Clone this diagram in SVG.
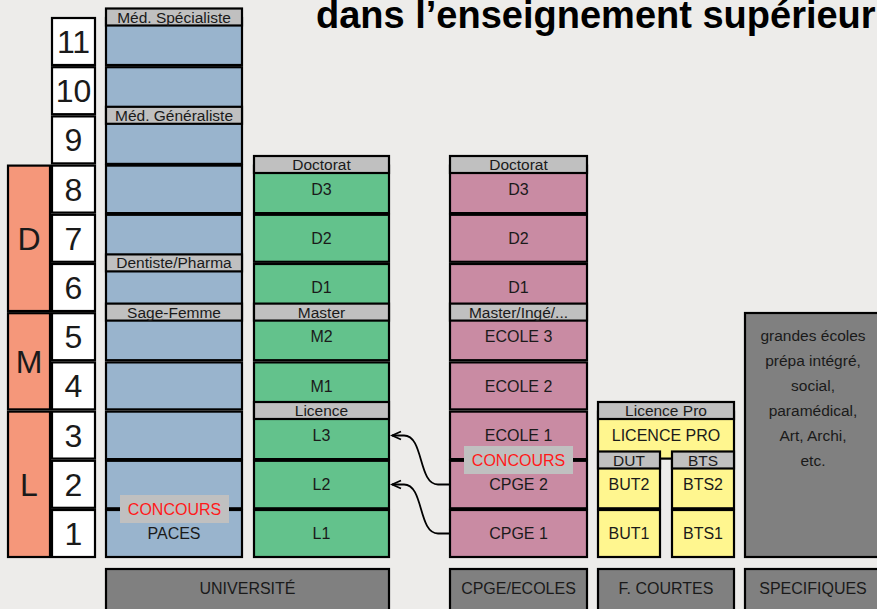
<svg xmlns="http://www.w3.org/2000/svg" width="877" height="609" viewBox="0 0 877 609">
<style>
text{font-family:"Liberation Sans",Arial,Helvetica,sans-serif;fill:#1a1a1a;text-anchor:middle}
rect{stroke:#000;stroke-width:2.2}
rect.bg{fill:#EDECEA;stroke:none}
.b{fill:#99B4CD}.g{fill:#63C28C}.p{fill:#C98BA3}.y{fill:#FFF68F}.s{fill:#F5977A}.w{fill:#fff}
.lab{fill:#C0C0C0}.dk{fill:#808080}
.t16{font-size:16px}.t15{font-size:15.5px}.big{font-size:32px}
.red{fill:#FF1A1A;font-size:16px}
rect.cc{fill:#C0C0C0;stroke:none}
.title{font-size:38px;font-weight:bold;text-anchor:start;fill:#000}
.arr{fill:none;stroke:#000;stroke-width:1.8}
</style>
<defs>
<marker id="ah" viewBox="0 0 12 12" refX="10" refY="6" markerWidth="12" markerHeight="12" markerUnits="userSpaceOnUse" orient="auto">
<path d="M1,2 L10,6 L1,10" fill="none" stroke="#000" stroke-width="1.8"/>
</marker>
</defs>
<rect class="bg" x="0" y="0" width="877" height="609"/>
<text class="title" x="316" y="27.5">dans l’enseignement supérieur</text>

<g id="lmd">
<g id="lmd-D"><rect class="s" x="8" y="165.6" width="42" height="145.4"/><text class="big" x="29" y="249.5">D</text></g>
<g id="lmd-M"><rect class="s" x="8" y="313.2" width="42" height="96.2"/><text class="big" x="29" y="372.8">M</text></g>
<g id="lmd-L"><rect class="s" x="8" y="411.6" width="42" height="145.4"/><text class="big" x="29" y="495.8">L</text></g>
</g>

<g id="years">
<g id="y1"><rect class="w" x="52" y="510" width="43" height="47"/><text class="big" x="73.5" y="545">1</text></g>
<g id="y2"><rect class="w" x="52" y="460.8" width="43" height="47"/><text class="big" x="73.5" y="495.8">2</text></g>
<g id="y3"><rect class="w" x="52" y="411.6" width="43" height="47"/><text class="big" x="73.5" y="446.6">3</text></g>
<g id="y4"><rect class="w" x="52" y="362.4" width="43" height="47"/><text class="big" x="73.5" y="397.4">4</text></g>
<g id="y5"><rect class="w" x="52" y="313.2" width="43" height="47"/><text class="big" x="73.5" y="348.2">5</text></g>
<g id="y6"><rect class="w" x="52" y="264" width="43" height="47"/><text class="big" x="73.5" y="299">6</text></g>
<g id="y7"><rect class="w" x="52" y="214.8" width="43" height="47"/><text class="big" x="73.5" y="249.8">7</text></g>
<g id="y8"><rect class="w" x="52" y="165.6" width="43" height="47"/><text class="big" x="73.5" y="200.6">8</text></g>
<g id="y9"><rect class="w" x="52" y="116.4" width="43" height="47"/><text class="big" x="73.5" y="151.4">9</text></g>
<g id="y10"><rect class="w" x="52" y="67.2" width="43" height="47"/><text class="big" x="73.5" y="102.2">10</text></g>
<g id="y11"><rect class="w" x="52" y="18" width="43" height="47"/><text class="big" x="73.5" y="53">11</text></g>
</g>

<g id="universite-col">
<rect class="b" x="106" y="18" width="136" height="47"/>
<rect class="b" x="106" y="67.2" width="136" height="47"/>
<rect class="b" x="106" y="116.4" width="136" height="47.5"/>
<rect class="b" x="106" y="165.6" width="136" height="47.5"/>
<rect class="b" x="106" y="214.8" width="136" height="47"/>
<rect class="b" x="106" y="264" width="136" height="47"/>
<rect class="b" x="106" y="313.2" width="136" height="47"/>
<rect class="b" x="106" y="362.4" width="136" height="47"/>
<rect class="b" x="106" y="411.6" width="136" height="47.5"/>
<rect class="b" x="106" y="460.8" width="136" height="47.5"/>
<rect class="b" x="106" y="510" width="136" height="47"/>
<g id="lab-med-spec"><rect class="lab" x="106" y="8.5" width="136" height="17"/><text class="t15" x="174" y="22.5">Méd. Spécialiste</text></g>
<g id="lab-med-gen"><rect class="lab" x="106" y="106.8" width="136" height="17"/><text class="t15" x="174" y="120.8">Méd. Généraliste</text></g>
<g id="lab-dentiste"><rect class="lab" x="106" y="254.4" width="136" height="17"/><text class="t15" x="174" y="268.4">Dentiste/Pharma</text></g>
<g id="lab-sage"><rect class="lab" x="106" y="303.6" width="136" height="17"/><text class="t15" x="174" y="317.6">Sage-Femme</text></g>
<g id="concours-univ"><rect class="cc" x="120" y="495" width="109" height="28"/><text class="red" x="174.5" y="514.8">CONCOURS</text></g>
<text class="t16" x="174" y="539.2">PACES</text>
</g>

<g id="licence-col">
<g id="L1"><rect class="g" x="254" y="510" width="135" height="47"/><text class="t16" x="321.5" y="539.2">L1</text></g>
<g id="L2"><rect class="g" x="254" y="460.8" width="135" height="47.5"/><text class="t16" x="321.5" y="490">L2</text></g>
<g id="L3"><rect class="g" x="254" y="411.6" width="135" height="47.5"/><text class="t16" x="321.5" y="440.8">L3</text></g>
<g id="M1"><rect class="g" x="254" y="362.4" width="135" height="47"/><text class="t16" x="321.5" y="391.6">M1</text></g>
<g id="M2"><rect class="g" x="254" y="313.2" width="135" height="47"/><text class="t16" x="321.5" y="342.4">M2</text></g>
<g id="D1g"><rect class="g" x="254" y="264" width="135" height="47"/><text class="t16" x="321.5" y="293.2">D1</text></g>
<g id="D2g"><rect class="g" x="254" y="214.8" width="135" height="47"/><text class="t16" x="321.5" y="244">D2</text></g>
<g id="D3g"><rect class="g" x="254" y="165.6" width="135" height="47.5"/><text class="t16" x="321.5" y="194.8">D3</text></g>
<g id="lab-doct-g"><rect class="lab" x="254" y="156" width="135" height="17"/><text class="t15" x="321.5" y="170">Doctorat</text></g>
<g id="lab-master"><rect class="lab" x="254" y="303.6" width="135" height="17"/><text class="t15" x="321.5" y="317.6">Master</text></g>
<g id="lab-licence"><rect class="lab" x="254" y="402" width="135" height="17"/><text class="t15" x="321.5" y="416">Licence</text></g>
</g>

<g id="cpge-col">
<g id="CPGE1"><rect class="p" x="450" y="510" width="137" height="47"/><text class="t16" x="518.5" y="539.2">CPGE 1</text></g>
<g id="CPGE2"><rect class="p" x="450" y="460.8" width="137" height="47.5"/><text class="t16" x="518.5" y="490">CPGE 2</text></g>
<g id="ECOLE1"><rect class="p" x="450" y="411.6" width="137" height="47.5"/><text class="t16" x="518.5" y="440.8">ECOLE 1</text></g>
<g id="ECOLE2"><rect class="p" x="450" y="362.4" width="137" height="47"/><text class="t16" x="518.5" y="391.6">ECOLE 2</text></g>
<g id="ECOLE3"><rect class="p" x="450" y="313.2" width="137" height="47"/><text class="t16" x="518.5" y="342.4">ECOLE 3</text></g>
<g id="D1p"><rect class="p" x="450" y="264" width="137" height="47"/><text class="t16" x="518.5" y="293.2">D1</text></g>
<g id="D2p"><rect class="p" x="450" y="214.8" width="137" height="47"/><text class="t16" x="518.5" y="244">D2</text></g>
<g id="D3p"><rect class="p" x="450" y="165.6" width="137" height="47.5"/><text class="t16" x="518.5" y="194.8">D3</text></g>
<g id="lab-doct-p"><rect class="lab" x="450" y="156" width="137" height="17"/><text class="t15" x="518.5" y="170">Doctorat</text></g>
<g id="lab-master-inge"><rect class="lab" x="450" y="303.6" width="137" height="17"/><text class="t15" x="518.5" y="317.6">Master/Ingé/...</text></g>
<g id="concours-cpge"><rect class="cc" x="464" y="446" width="109" height="28"/><text class="red" x="518.5" y="465.8">CONCOURS</text></g>
</g>

<g id="courtes-col">
<g id="LPRO"><rect class="y" x="598" y="411.6" width="136" height="47"/><text class="t16" x="666" y="440.8">LICENCE PRO</text></g>
<g id="lab-lpro"><rect class="lab" x="598" y="402" width="136" height="17"/><text class="t15" x="666" y="416">Licence Pro</text></g>
<g id="BUT2"><rect class="y" x="598" y="460.8" width="62" height="47.5"/><text class="t16" x="629" y="490">BUT2</text></g>
<g id="BUT1"><rect class="y" x="598" y="510" width="62" height="47"/><text class="t16" x="629" y="539.2">BUT1</text></g>
<g id="BTS2"><rect class="y" x="672" y="460.8" width="62" height="47.5"/><text class="t16" x="703" y="490">BTS2</text></g>
<g id="BTS1"><rect class="y" x="672" y="510" width="62" height="47"/><text class="t16" x="703" y="539.2">BTS1</text></g>
<g id="lab-dut"><rect class="lab" x="598" y="451.5" width="62" height="17"/><text class="t15" x="629" y="465.5">DUT</text></g>
<g id="lab-bts"><rect class="lab" x="672" y="451.5" width="62" height="17"/><text class="t15" x="703" y="465.5">BTS</text></g>
</g>

<g id="specifiques-box">
<rect class="dk" x="745" y="313" width="140" height="244"/>
<text class="t15" x="813" y="340.5">grandes écoles</text>
<text class="t15" x="813" y="365.5">prépa intégré,</text>
<text class="t15" x="813" y="390.5">social,</text>
<text class="t15" x="813" y="415.5">paramédical,</text>
<text class="t15" x="813" y="440.5">Art, Archi,</text>
<text class="t15" x="813" y="465.5">etc.</text>
</g>

<g id="footer">
<g id="f-univ"><rect class="dk" x="106" y="569" width="283" height="50"/><text class="t16" x="247.5" y="593.5">UNIVERSITÉ</text></g>
<g id="f-cpge"><rect class="dk" x="450" y="569" width="137" height="50"/><text class="t16" x="518.5" y="593.5">CPGE/ECOLES</text></g>
<g id="f-courtes"><rect class="dk" x="598" y="569" width="136" height="50"/><text class="t16" x="666" y="593.5">F. COURTES</text></g>
<g id="f-spec"><rect class="dk" x="745" y="569" width="140" height="50"/><text class="t16" x="813" y="593.5">SPECIFIQUES</text></g>
</g>

<g id="connectors">
<path class="arr" d="M449,484.5 H438 C418,484.5 424,435.5 404,435.5 H392" marker-end="url(#ah)"/>
<path class="arr" d="M449,533.5 H438 C418,533.5 424,484.5 404,484.5 H392" marker-end="url(#ah)"/>
</g>
</svg>
